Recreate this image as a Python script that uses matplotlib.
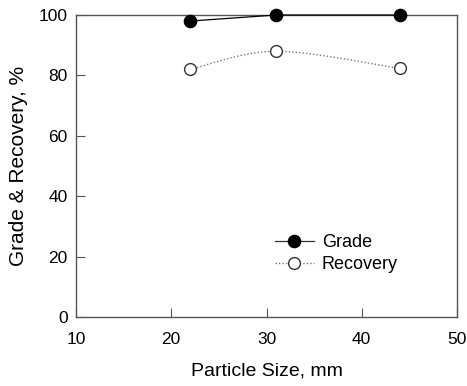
import numpy as np
import matplotlib
matplotlib.use("Agg")
import matplotlib.pyplot as plt
from matplotlib.path import Path
from matplotlib.patches import PathPatch
from matplotlib.lines import Line2D

plt.rcParams['font.family'] = ['Liberation Sans', 'DejaVu Sans']

particle_size = [22, 31, 44]
grade = [98, 100, 100]
recovery = [82, 88, 82.3]
x_ticks = [10, 20, 30, 40, 50]
y_ticks = [0, 20, 40, 60, 80, 100]

fig = plt.figure(figsize=(4.67, 3.86), dpi=100)
ax = fig.add_axes([76/467, 1-317/386, (457-76)/467, (317-15)/386])

ax.plot(particle_size, grade, color='black', lw=0.9, marker='o', ms=8.8,
        mfc='black', mec='black', zorder=4, clip_on=False)

# smooth dotted curve through recovery points (Catmull-Rom -> Bezier)
xs = np.array(particle_size, float)
ys = np.array(recovery, float)
verts = [(xs[0], ys[0])]
codes = [Path.MOVETO]
n = len(xs)
for i in range(n - 1):
    p0 = np.array([xs[max(i-1, 0)], ys[max(i-1, 0)]])
    p1 = np.array([xs[i], ys[i]])
    p2 = np.array([xs[i+1], ys[i+1]])
    p3 = np.array([xs[min(i+2, n-1)], ys[min(i+2, n-1)]])
    c1 = p1 + (p2 - p0) / 6
    c2 = p2 - (p3 - p1) / 6
    verts += [tuple(c1), tuple(c2), tuple(p2)]
    codes += [Path.CURVE4] * 3
patch = PathPatch(Path(verts, codes), fill=False, edgecolor='#777777', lw=1.0,
                  linestyle=(0, (1, 1.5)), zorder=3)
ax.add_patch(patch)
ax.plot(particle_size, recovery, linestyle='none', marker='o', ms=8.5,
        mfc='white', mec='#333333', mew=1.0, zorder=4)

ax.set_xlim(10, 50)
ax.set_ylim(0, 100)
ax.set_xticks(x_ticks)
ax.set_yticks(y_ticks)
ax.tick_params(direction='in', length=6.5, width=0.8, color='#555555',
               labelsize=12.5)
ax.tick_params(axis='x', pad=11)
ax.tick_params(axis='y', pad=6)
for s in ax.spines.values():
    s.set_color('#555555')
    s.set_linewidth(1.0)
ax.set_xlabel('Particle Size, mm', fontsize=14, labelpad=11)
ax.set_ylabel('Grade & Recovery, %', fontsize=15, labelpad=8)

handles = [
    Line2D([], [], color='#333333', lw=0.9, marker='o', ms=8.8, mfc='black', mec='black'),
    Line2D([], [], color='#777777', lw=1.0, linestyle=(0, (1, 1.5)), marker='o', ms=8.5,
           mfc='white', mec='#333333'),
]
ax.legend(handles, ['Grade', 'Recovery'], loc='upper left',
          bbox_to_anchor=((275-76)/381, 1-(234-15)/302), frameon=False,
          fontsize=13, handlelength=2.15, handletextpad=0.45, labelspacing=0.3,
          borderpad=0, borderaxespad=0)

fig.savefig('out.png', dpi=100)
